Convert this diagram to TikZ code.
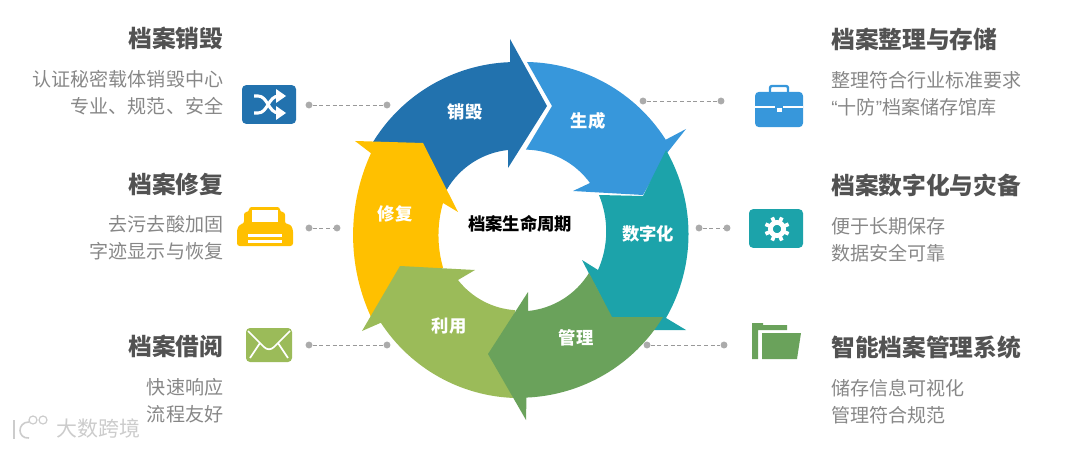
\documentclass[tikz,border=0pt]{standalone}
\usepackage{fontspec}
\setmainfont{Noto Sans CJK SC}
\newfontfamily\quotefont{Liberation Sans}
\usetikzlibrary{positioning}

\definecolor{darkblue}{HTML}{2272AE}
\definecolor{lightblue}{HTML}{3797DB}
\definecolor{teal2}{HTML}{1CA3AA}
\definecolor{green2}{HTML}{6AA25B}
\definecolor{lightgreen}{HTML}{9BBB59}
\definecolor{yellow2}{HTML}{FFC000}

\begin{document}
\begin{tikzpicture}[
x=0.75pt,y=-0.75pt,
head/.style={font=\fontsize{17.8}{20}\bfseries\selectfont,text=black!68,inner sep=0pt},
desc/.style={font=\fontsize{14.3}{20.25}\selectfont,text=black!47,inner sep=0pt},
seglabel/.style={font=\fontsize{13}{15}\bfseries\selectfont,text=white,inner sep=0pt},
dot/.style={circle,fill=black!33,inner sep=0pt,minimum size=5.2pt},
link/.style={black!40,densely dashed,line width=0.6pt},
iconbox/.style={rounded corners=3pt,inner sep=0pt}
]
\useasboundingbox (0,0) rectangle (1080,449);

% Ring
\fill[darkblue] (373,142) arc[start angle=211.6,end angle=268,radius=168] -- (510,39) -- (547,106)
  -- (508,168) -- (508,150) arc[start angle=264,end angle=210,radius=80.5] -- cycle;
\fill[yellow2] (371,317) arc[start angle=155.3,end angle=204.7,radius=196] -- (355,141) -- (423,143)
  -- (458,212) -- (443,203) arc[start angle=196,end angle=164,radius=117] -- (420,290) -- (385,325) -- cycle;
\fill[lightgreen] (515,398) arc[start angle=91.7,end angle=146.9,radius=166] -- (362,331) -- (400,266)
  -- (475,270) -- (458,280) arc[start angle=142,end angle=93.6,radius=79] -- (505,354) -- cycle;
\fill[lightblue] (527,62) arc[start angle=271,end angle=327.5,radius=168] -- (686,129) -- (667,153)
  -- (643,195) -- (573,191) -- (590,183) arc[start angle=324,end angle=271,radius=81] -- (552,106) -- cycle;
\fill[teal2] (666,150) arc[start angle=-30,end angle=30,radius=168] -- (686,330) -- (618,330)
  -- (582,260) -- (598,270) arc[start angle=24,end angle=-22.5,radius=95] -- (643,196) -- cycle;
\fill[green2] (663,317) arc[start angle=31.3,end angle=87.6,radius=168] -- (526,420) -- (488,354)
  -- (528,292) -- (528,311) arc[start angle=84.4,end angle=31.7,radius=81] -- (612,317) -- cycle;

\node[seglabel] (xiaohui) at (465,112) {销毁};
\node[seglabel] (shengcheng) at (588,121) {生成};
\node[seglabel] (shuzi) at (648,234) {数字化};
\node[seglabel] (guanli) at (576,338) {管理};
\node[seglabel] (liyong) at (449,326) {利用};
\node[seglabel] (xiufu) at (395,214) {修复};
\node[font=\fontsize{13}{15}\bfseries\selectfont,inner sep=0pt] (center) at (520,224) {档案生命周期};

% Left column
\node[head,anchor=east] (t1) at (223.5,38) {档案销毁};
\node[desc,align=right,below=15pt of t1.south east,anchor=north east] (d1) {认证秘密载体销毁中心\\专业、规范、安全};
\node[head,anchor=east] (t2) at (223.5,184) {档案修复};
\node[desc,align=right,below=15pt of t2.south east,anchor=north east] (d2) {去污去酸加固\\字迹显示与恢复};
\node[head,anchor=east] (t3) at (223.5,346) {档案借阅};
\node[desc,align=right,below=15pt of t3.south east,anchor=north east] (d3) {快速响应\\流程友好};

% Right column
\node[head,anchor=west] (t4) at (831,39) {档案整理与存储};
\node[desc,align=left,below=15pt of t4.south west,anchor=north west] (d4) {整理符合行业标准要求\\{\quotefont “}十防{\quotefont ”}档案储存馆库};
\node[head,anchor=west] (t5) at (831,185) {档案数字化与灾备};
\node[desc,align=left,below=15pt of t5.south west,anchor=north west] (d5) {便于长期保存\\数据安全可靠};
\node[head,anchor=west] (t6) at (831,347) {智能档案管理系统};
\node[desc,align=left,below=15pt of t6.south west,anchor=north west] (d6) {储存信息可视化\\管理符合规范};

% Links
\node[dot] (a1) at (309,105) {};
\node[dot] (b1) at (387,105) {};
\node[dot] (a2) at (309,228) {};
\node[dot] (b2) at (337,228) {};
\node[dot] (a3) at (309,345) {};
\node[dot] (b3) at (387,345) {};
\node[dot] (a4) at (643,101) {};
\node[dot] (b4) at (721,101) {};
\node[dot] (a5) at (699,228) {};
\node[dot] (b5) at (727,228) {};
\node[dot] (a6) at (647,345) {};
\node[dot] (b6) at (724,345) {};
\draw[link] (a1)--(b1);
\draw[link] (a2)--(b2);
\draw[link] (a3)--(b3);
\draw[link] (a4)--(b4);
\draw[link] (a5)--(b5);
\draw[link] (a6)--(b6);

% Shuffle icon
\node[iconbox,fill=darkblue,minimum width=40.5pt,minimum height=29pt] (shuffle) at (269,104.5) {};
\draw[white,line width=2.3pt] (254,96) -- (258,96) .. controls (268,96) and (268,113) .. (279,113);
\draw[white,line width=2.3pt] (254,113) -- (258,113) .. controls (268,113) and (268,96) .. (279,96);
\fill[white] (276,89) -- (286,96) -- (276,103) -- cycle;
\fill[white] (276,106) -- (286,113) -- (276,120) -- cycle;

% Printer icon
\fill[yellow2,rounded corners=2pt] (244,212) -- (249,212) -- (249,207) -- (280,207) -- (280,212) -- (285,212) -- (285,224)
  -- (290,224) -- (293,229) -- (293,246) -- (237,246) -- (237,229) -- (240,224) -- (244,224) -- cycle;
\fill[white] (252,210) rectangle (278,222);
\fill[white] (248,234) rectangle (282,236.5);
\fill[white] (248,240) rectangle (282,242.5);

% Envelope icon
\node[iconbox,fill=lightgreen,minimum width=34.5pt,minimum height=25.5pt] (mail) at (269,345) {};
\draw[white,line width=1.3pt] (248,331) -- (264,347) .. controls (267,350) and (271,350) .. (274,347) -- (290,331);
\draw[white,line width=1.3pt] (250,358) -- (260,343);
\draw[white,line width=1.3pt] (288,358) -- (278,343);

% Briefcase icon
\draw[lightblue,line width=1.8pt,rounded corners=1.5pt] (770,93) -- (770,86) -- (788,86) -- (788,93);
\node[iconbox,fill=lightblue,minimum width=36pt,minimum height=26.5pt] (case) at (779,109.5) {};
\draw[white,line width=1.3pt] (755,107) -- (803,107);
\fill[lightblue] (775,105) rectangle (783,114);
\fill[white] (776.5,108.5) rectangle (781.5,112);

% Gear icon
\node[iconbox,fill=teal2,minimum width=40.5pt,minimum height=29pt] (gear) at (776,228.5) {};
\foreach \a in {22.5,67.5,...,337.5}
  \draw[white,line width=2.8pt] (777,229)+(\a:8) -- +(\a:12.5);
\draw[white,line width=3.6pt] (777,229) circle[radius=6.6];

% Folder icon
\fill[green2] (752,323) -- (763,323) -- (763,325) -- (787,325) -- (787,330) -- (758,330) -- (758,359) -- (752,359) -- cycle;
\fill[green2] (762,333) -- (801,333) -- (797,359) -- (762,359) -- cycle;

% Watermark
\node[font=\fontsize{15.7}{17}\selectfont,text=black!20,inner sep=0pt,anchor=west] (mark) at (56,429) {大数跨境};
\draw[black!20,line width=1.2pt] (14,420) -- (14,439);
\draw[black!20,line width=1.2pt] (29,422) .. controls (17,422) and (17,439) .. (29,438);
\draw[black!20,line width=0.9pt] (33,420) circle[radius=4];
\draw[black!20,line width=0.9pt] (43,420) circle[radius=4];

\end{tikzpicture}
\end{document}
